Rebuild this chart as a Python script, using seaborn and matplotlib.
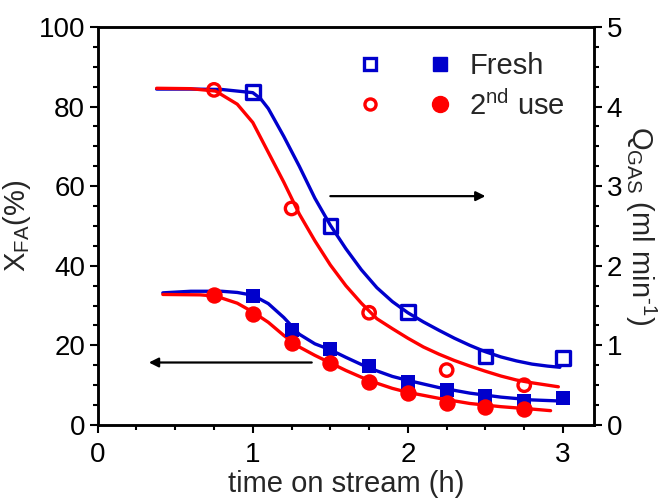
import matplotlib
matplotlib.use("Agg")
import matplotlib.pyplot as plt
import seaborn as sns
import pandas as pd
from matplotlib.lines import Line2D
from matplotlib.legend_handler import HandlerTuple
from matplotlib.ticker import MultipleLocator

# ---------------- data ----------------
# Gas flow (right axis), open markers
t_fresh_q = [1.0, 1.5, 2.0, 2.5, 3.0]
q_fresh = [4.18, 2.50, 1.42, 0.86, 0.84]
t_2nd_q = [0.75, 1.25, 1.75, 2.25, 2.75]
q_2nd = [4.21, 2.72, 1.41, 0.69, 0.50]

# Conversion (left axis), filled markers
t_fresh_x = [1.0, 1.25, 1.5, 1.75, 2.0, 2.25, 2.5, 2.75, 3.0]
x_fresh = [32.5, 23.8, 19.0, 14.7, 10.8, 8.7, 7.2, 6.0, 6.7]
t_2nd_x = [0.75, 1.0, 1.25, 1.5, 1.75, 2.0, 2.25, 2.5, 2.75]
x_2nd = [32.6, 27.9, 20.6, 15.6, 10.8, 8.0, 5.6, 4.5, 3.9]

# Fitted curves
fit_q_fresh_t = [0.38, 0.6, 0.8, 1.0, 1.05, 1.1, 1.2, 1.3, 1.4, 1.5, 1.6, 1.7, 1.8,
                 1.9, 2.0, 2.1, 2.2, 2.3, 2.4, 2.5, 2.6, 2.7, 2.8, 2.9, 2.98]
fit_q_fresh = [4.22, 4.22, 4.215, 4.175, 4.10, 3.975, 3.625, 3.25, 2.85, 2.51, 2.215,
               1.95, 1.725, 1.55, 1.41, 1.295, 1.19, 1.09, 1.0, 0.92, 0.855, 0.805,
               0.765, 0.74, 0.725]
fit_q_2nd_t = [0.38, 0.6, 0.76, 0.9, 1.0, 1.1, 1.2, 1.3, 1.4, 1.5, 1.6, 1.7, 1.8,
               1.9, 2.0, 2.1, 2.2, 2.3, 2.4, 2.5, 2.6, 2.7, 2.8, 2.97]
fit_q_2nd = [4.23, 4.225, 4.195, 4.03, 3.80, 3.425, 3.05, 2.65, 2.315, 2.01, 1.75,
             1.53, 1.335, 1.21, 1.09, 0.98, 0.89, 0.81, 0.74, 0.675, 0.615, 0.565,
             0.53, 0.48]
fit_x_fresh_t = [0.42, 0.6, 0.8, 0.9, 1.0, 1.1, 1.2, 1.3, 1.4, 1.5, 1.6, 1.7, 1.8,
                 1.9, 2.0, 2.2, 2.4, 2.6, 2.8, 3.0]
fit_x_fresh = [33.2, 33.6, 33.6, 33.3, 32.6, 30.5, 27.0, 22.8, 20.4, 18.9, 17.0,
               15.2, 13.6, 12.2, 11.2, 9.4, 8.0, 7.0, 6.3, 6.0]
fit_x_2nd_t = [0.42, 0.66, 0.76, 0.9, 1.0, 1.1, 1.2, 1.3, 1.4, 1.5, 1.6, 1.7, 1.8,
               1.9, 2.0, 2.2, 2.4, 2.6, 2.8, 2.92]
fit_x_2nd = [32.8, 32.7, 32.4, 30.6, 28.4, 25.8, 22.5, 19.6, 17.5, 15.6, 13.7, 12.0,
             10.5, 9.2, 8.2, 6.7, 5.4, 4.6, 4.0, 3.6]

legend_labels = ["Fresh", r"2$^{\mathrm{nd}}$ use"]

# ---------------- style ----------------
BLUE = "#0000CC"
RED = "#FF0000"

sns.set_theme(style="ticks")
plt.rcParams["font.family"] = ["Liberation Sans", "DejaVu Sans"]
plt.rcParams["mathtext.fontset"] = "custom"
plt.rcParams["mathtext.rm"] = "Liberation Sans"
plt.rcParams["mathtext.it"] = "Liberation Sans:italic"
plt.rcParams["mathtext.bf"] = "Liberation Sans:bold"

fig = plt.figure(figsize=(6.70, 4.98), dpi=100)
ax = fig.add_axes([0.1458, 0.1466, 0.7408, 0.7992])
ax2 = ax.twinx()

LW = 2.4

# lower curves (conversion, left axis)
sns.lineplot(x=fit_x_fresh_t, y=fit_x_fresh, ax=ax, color=BLUE, lw=LW, sort=False,
             estimator=None)
sns.lineplot(x=fit_x_2nd_t, y=fit_x_2nd, ax=ax, color=RED, lw=LW, sort=False,
             estimator=None)
sns.scatterplot(x=t_fresh_x, y=x_fresh, ax=ax, marker="s", s=110, color=BLUE,
                edgecolor=BLUE, linewidth=0, zorder=5)
sns.scatterplot(x=t_2nd_x, y=x_2nd, ax=ax, marker="o", s=140, color=RED,
                edgecolor=RED, linewidth=0, zorder=5)

# upper curves (gas flow, right axis)
sns.lineplot(x=fit_q_fresh_t, y=fit_q_fresh, ax=ax2, color=BLUE, lw=LW, sort=False,
             estimator=None)
sns.lineplot(x=fit_q_2nd_t, y=fit_q_2nd, ax=ax2, color=RED, lw=LW, sort=False,
             estimator=None)
sns.scatterplot(x=t_fresh_q, y=q_fresh, ax=ax2, marker="s", s=95,
                facecolor="none", edgecolor=BLUE, linewidth=2.4, zorder=5)
sns.scatterplot(x=t_2nd_q, y=q_2nd, ax=ax2, marker="o", s=80,
                facecolor="none", edgecolor=RED, linewidth=2.4, zorder=5)

# arrows
arrow_kw = dict(arrowstyle="-|>", color="black", lw=1.6, mutation_scale=14,
                shrinkA=0, shrinkB=0)
ax2.annotate("", xy=(2.5, 2.875), xytext=(1.5, 2.875), arrowprops=arrow_kw)
ax.annotate("", xy=(0.33, 15.7), xytext=(1.38, 15.7), arrowprops=arrow_kw)

# axes limits / ticks
ax.set_xlim(0, 3.2)
ax.set_ylim(0, 100)
ax2.set_ylim(0, 5)
ax.xaxis.set_major_locator(MultipleLocator(1))
ax.xaxis.set_minor_locator(MultipleLocator(0.25))
ax.yaxis.set_major_locator(MultipleLocator(20))
ax.yaxis.set_minor_locator(MultipleLocator(5))
ax2.yaxis.set_major_locator(MultipleLocator(1))
ax2.yaxis.set_minor_locator(MultipleLocator(0.25))

for a in (ax, ax2):
    for sp in a.spines.values():
        sp.set_linewidth(1.8)
        sp.set_color("black")
    a.tick_params(which="major", direction="out", length=6, width=1.5,
                  labelsize=20, colors="black", pad=3)
    a.tick_params(which="minor", direction="out", length=3.5, width=1.5,
                  colors="black")
ax.tick_params(axis="x", top=False, which="both")
ax.tick_params(axis="x", which="major", pad=6.5)
ax.tick_params(axis="y", right=False, which="both")

ax.set_xlabel("time on stream (h)", fontsize=21, labelpad=1)
ax.set_ylabel(r"X$_{\mathrm{FA}}$(%)", fontsize=21, labelpad=4)
ax2.set_ylabel("Q$_{\\mathrm{GAS}}$ (ml min$^{\\text{-1}}$)", fontsize=21,
               rotation=270, labelpad=26)

# legend: open + filled markers per row
h_fresh = (Line2D([], [], ls="none", marker="s", ms=8.5, mfc="white", mec=BLUE, mew=2.4),
           Line2D([], [], ls="none", marker="s", ms=10, mfc=BLUE, mec=BLUE))
h_2nd = (Line2D([], [], ls="none", marker="o", ms=8, mfc="white", mec=RED, mew=2.4),
         Line2D([], [], ls="none", marker="o", ms=11.5, mfc=RED, mec=RED))
leg = ax2.legend([h_fresh, h_2nd], legend_labels,
                 handler_map={tuple: HandlerTuple(ndivide=None, pad=1.6)},
                 handlelength=3.2, handletextpad=0.6, labelspacing=0.35,
                 fontsize=21, frameon=False, loc="upper left",
                 bbox_to_anchor=(0.502, 0.967), borderaxespad=0)

fig.savefig("out.png", dpi=100)
